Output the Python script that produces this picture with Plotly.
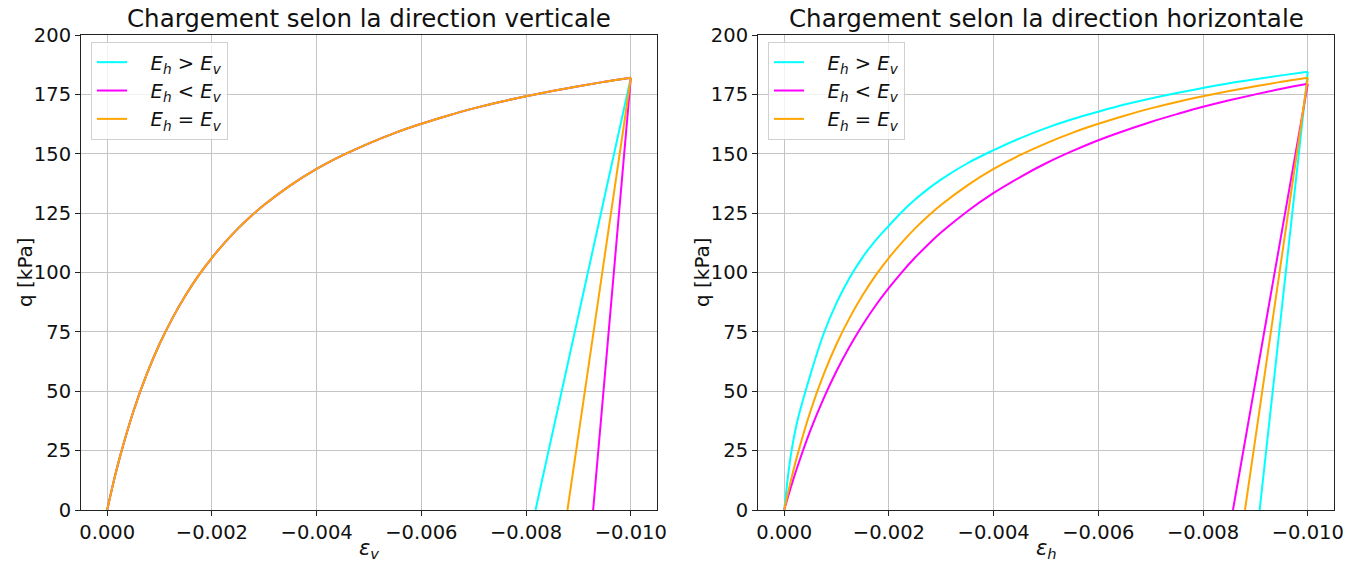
import plotly.graph_objects as go

# ---------------- data ----------------
names = ["<i>E</i><sub><i>h</i></sub> > <i>E</i><sub><i>v</i></sub>",
         "<i>E</i><sub><i>h</i></sub> < <i>E</i><sub><i>v</i></sub>",
         "<i>E</i><sub><i>h</i></sub> = <i>E</i><sub><i>v</i></sub>"]
colors = ["#00ffff", "#ff00ff", "#ffa500"]

# strain grid used for the loading branches
eps_grid = [0, -0.000125, -0.00025, -0.0005, -0.00075, -0.001, -0.00125, -0.0015,
            -0.00175, -0.002, -0.00225, -0.0025, -0.00275, -0.003, -0.0035, -0.004,
            -0.0045, -0.005, -0.0055, -0.006, -0.0065, -0.007, -0.0075, -0.008,
            -0.0085, -0.009, -0.0095, -0.010]

# vertical loading : the three cases coincide (= orange curve)
q_v_load = [0, 12.1, 22.9, 41.5, 56.9, 69.9, 80.9, 90.5, 98.9, 106.2, 112.7, 118.6,
            123.8, 128.5, 136.7, 143.6, 149.4, 154.4, 158.8, 162.6, 166.0, 169.1,
            171.8, 174.2, 176.4, 178.4, 180.3, 182.0]
# vertical unloading (cyan, magenta, orange): peak and strain at q = 0
eps_v_peak = [-0.010, -0.010, -0.010]
q_v_peak = [182.0, 182.0, 182.0]
eps_v_end = [-0.00818, -0.00928, -0.00879]

# horizontal loading
q_h_cyan = [0, 22.8, 37.3, 56.9, 74.0, 87.2, 97.8, 106.5, 113.6, 119.7, 125.6, 130.7,
            135.2, 139.2, 146.0, 151.5, 156.5, 160.8, 164.5, 167.7, 170.7, 173.3,
            175.6, 177.7, 179.7, 181.4, 183.0, 184.5]
q_h_mag = [0, 9.4, 18.0, 33.5, 46.8, 58.5, 68.8, 78.0, 86.2, 93.5, 100.2, 106.3,
           111.8, 116.9, 125.8, 133.5, 140.1, 146.0, 151.1, 155.7, 159.7, 163.4,
           166.7, 169.8, 172.5, 175.0, 177.4, 179.5]
q_h_ora = q_v_load
# horizontal unloading
eps_h_peak = [-0.010, -0.010, -0.010]
q_h_peak = [184.5, 179.5, 182.0]
eps_h_end = [-0.00908, -0.00857, -0.00880]

x_ticks = [0, -0.002, -0.004, -0.006, -0.008, -0.010]
x_ticktext = ["0.000", "\u22120.002", "\u22120.004", "\u22120.006", "\u22120.008", "\u22120.010"]
y_ticks = [0, 25, 50, 75, 100, 125, 150, 175, 200]

titles = ["Chargement selon la direction verticale",
          "Chargement selon la direction horizontale"]
xlabels = ["<i>\u03b5</i><sub><i>v</i></sub>", "<i>\u03b5</i><sub><i>h</i></sub>"]
ylabel = "q [kPa]"

# ---------------- figure ----------------
W, H = 1357, 565
FONT = "DejaVu Sans"
fig = go.Figure()

left_load = [q_v_load, q_v_load, q_v_load]
right_load = [q_h_cyan, q_h_mag, q_h_ora]
pad = "\u00a0" * 3

for panel, (loads, peaks_x, peaks_q, ends, xa, ya, lg) in enumerate([
        (left_load, eps_v_peak, q_v_peak, eps_v_end, "x", "y", "legend"),
        (right_load, eps_h_peak, q_h_peak, eps_h_end, "x2", "y2", "legend2")]):
    for i in range(3):
        fig.add_trace(go.Scatter(x=eps_grid, y=loads[i], mode="lines", name=pad + names[i],
                                 line=dict(color=colors[i], width=2, shape="spline", smoothing=1.0),
                                 xaxis=xa, yaxis=ya, legend=lg))
        fig.add_trace(go.Scatter(x=[peaks_x[i], ends[i]], y=[peaks_q[i], 0], mode="lines",
                                 line=dict(color=colors[i], width=2), showlegend=False,
                                 xaxis=xa, yaxis=ya))

px = lambda v: v / W
py = lambda v: 1 - v / H

axis_common = dict(showline=True, linecolor="#222", linewidth=1, mirror=True,
                   ticks="outside", ticklen=5, tickcolor="#222", tickwidth=1,
                   showgrid=True, gridcolor="#c4c4c4", gridwidth=1, zeroline=False,
                   tickfont=dict(family=FONT, size=19.5, color="#111"))

legend_common = dict(xanchor="left", yanchor="top", bgcolor="rgba(255,255,255,0.8)",
                     bordercolor="#d0d0d0", borderwidth=1, tracegroupgap=0,
                     font=dict(family=FONT, size=19.5, color="#111"))

fig.update_layout(
    width=W, height=H, margin=dict(l=0, r=0, t=0, b=0, autoexpand=False),
    plot_bgcolor="white", paper_bgcolor="white",
    font=dict(family=FONT, color="#111"),
    xaxis=dict(domain=[px(81), px(657)], range=[0.0005, -0.0105], tickvals=x_ticks,
               ticktext=x_ticktext, anchor="y", **axis_common),
    yaxis=dict(domain=[py(510), py(35)], range=[0, 200], tickvals=y_ticks, anchor="x",
               **axis_common),
    xaxis2=dict(domain=[px(758), px(1334)], range=[0.0005, -0.0105], tickvals=x_ticks,
                ticktext=x_ticktext, anchor="y2", **axis_common),
    yaxis2=dict(domain=[py(510), py(35)], range=[0, 200], tickvals=y_ticks, anchor="x2",
                **axis_common),
    legend=dict(x=px(91), y=py(42), **legend_common),
    legend2=dict(x=px(768), y=py(42), **legend_common),
    showlegend=True,
)

centers = [(81 + 657) / 2, (758 + 1334) / 2]
ylab_x = [25, 702]
for k in range(2):
    fig.add_annotation(text=titles[k], x=px(centers[k]), y=py(18), xref="paper", yref="paper",
                       showarrow=False, xanchor="center", yanchor="middle",
                       font=dict(family=FONT, size=24.5, color="#111"))
    fig.add_annotation(text=xlabels[k], x=px(centers[k]), y=py(549), xref="paper", yref="paper",
                       showarrow=False, xanchor="center", yanchor="middle",
                       font=dict(family=FONT, size=21, color="#111"))
    fig.add_annotation(text=ylabel, x=px(ylab_x[k]), y=py(272), xref="paper", yref="paper",
                       showarrow=False, xanchor="center", yanchor="middle", textangle=-90,
                       font=dict(family=FONT, size=20, color="#111"))

fig.write_html("out.html", config={"displayModeBar": False},
               post_script="document.body.style.margin='0';document.body.style.overflow='hidden';")
